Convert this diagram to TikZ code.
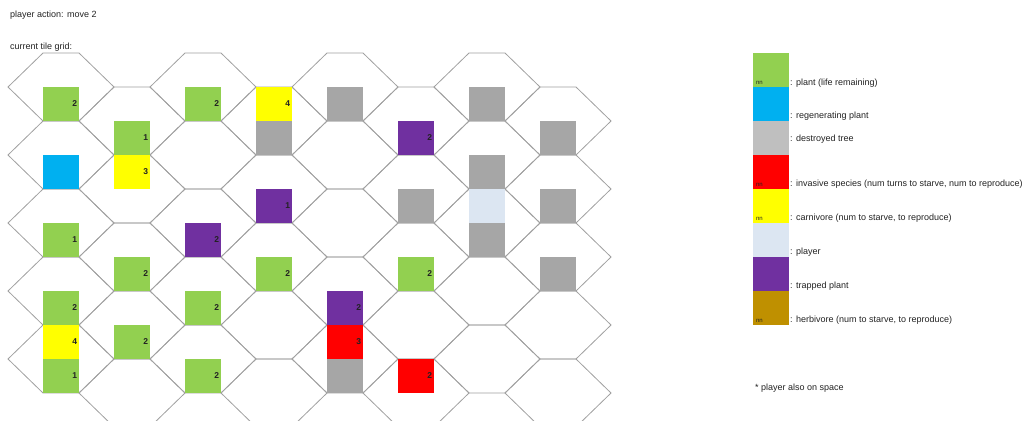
\documentclass[tikz,border=0pt]{standalone}
\usepackage{fontspec}
\setmainfont{Liberation Sans}
\definecolor{plantc}{HTML}{92D050}
\definecolor{regenc}{HTML}{00B0F0}
\definecolor{greyc}{HTML}{A6A6A6}
\definecolor{ltgreyc}{HTML}{BFBFBF}
\definecolor{redc}{HTML}{FF0000}
\definecolor{yellowc}{HTML}{FFFF00}
\definecolor{playerc}{HTML}{DCE6F2}
\definecolor{purplec}{HTML}{7030A0}
\definecolor{herbc}{HTML}{BF9000}
\definecolor{hexc}{HTML}{A0A0A0}
\definecolor{txtc}{HTML}{222222}
\newcommand\tile[4]{\node[tilebox, fill=#3] (t#1-#2) at ({43+71*#1+18},{87+34*#2+17}) {#4};}
\newcommand\legsq[3]{\node[legbox, fill=#2] (lg#1) at (771,{53+34*#1+17}) {};\node[nnlabel] (nn#1) at (lg#1.south west) {#3};}
\newcommand\hexcell[2]{\draw[hexline] ({43+71*#1},{#2}) -- ++(36,0) -- ++(35,34) -- ++(-35,34) -- ++(-36,0) -- ++(-35,-34) -- cycle;}
\begin{document}
\begin{tikzpicture}[x=1pt,y=-1pt,
  hexline/.style={draw=hexc, line width=0.8pt, line join=miter},
  tilebox/.style={minimum width=36pt, minimum height=34pt, inner xsep=0pt, inner ysep=0pt, text width=32pt, align=right, font=\fontsize{8.5}{10}\selectfont\bfseries, text=txtc},
  legbox/.style={minimum width=36pt, minimum height=34pt, inner sep=0pt},
  nnlabel/.style={anchor=south west, inner sep=0pt, xshift=3pt, yshift=2.5pt, font=\fontsize{6}{7}\selectfont, text=txtc},
  plaintext/.style={anchor=west, inner sep=0pt, font=\fontsize{9}{10}\selectfont, text=txtc}]
\useasboundingbox (0,0) rectangle (1024,420);
\begin{scope}
\clip (0,0) rectangle (1024,420);
\foreach \hc in {0,2,4,6}{
  \foreach \hy in {53,121,189,257,325}{
    \hexcell{\hc}{\hy}
  }
}
\foreach \hc in {1,3,5,7}{
  \foreach \hy in {87,155,223,291,359}{
    \hexcell{\hc}{\hy}
  }
}
\end{scope}
% column 0
\tile{0}{0}{plantc}{2}
\tile{0}{2}{regenc}{}
\tile{0}{4}{plantc}{1}
\tile{0}{6}{plantc}{2}
\tile{0}{7}{yellowc}{4}
\tile{0}{8}{plantc}{1}
% column 1
\tile{1}{1}{plantc}{1}
\tile{1}{2}{yellowc}{3}
\tile{1}{5}{plantc}{2}
\tile{1}{7}{plantc}{2}
% column 2
\tile{2}{0}{plantc}{2}
\tile{2}{4}{purplec}{2}
\tile{2}{6}{plantc}{2}
\tile{2}{8}{plantc}{2}
% column 3
\tile{3}{0}{yellowc}{4}
\tile{3}{1}{greyc}{}
\tile{3}{3}{purplec}{1}
\tile{3}{5}{plantc}{2}
% column 4
\tile{4}{0}{greyc}{}
\tile{4}{6}{purplec}{2}
\tile{4}{7}{redc}{3}
\tile{4}{8}{greyc}{}
% column 5
\tile{5}{1}{purplec}{2}
\tile{5}{3}{greyc}{}
\tile{5}{5}{plantc}{2}
\tile{5}{8}{redc}{2}
% column 6
\tile{6}{0}{greyc}{}
\tile{6}{2}{greyc}{}
\tile{6}{3}{playerc}{}
\tile{6}{4}{greyc}{}
% column 7
\tile{7}{1}{greyc}{}
\tile{7}{3}{greyc}{}
\tile{7}{5}{greyc}{}
% titles
\node[plaintext] (title) at (10,15) {player action: move 2};
\node[plaintext] (gridlbl) at (10,47) {current tile grid:};
% legend
\legsq{0}{plantc}{nn}
\legsq{1}{regenc}{}
\legsq{2}{ltgreyc}{}
\legsq{3}{redc}{nn}
\legsq{4}{yellowc}{nn}
\legsq{5}{playerc}{}
\legsq{6}{purplec}{}
\legsq{7}{herbc}{nn}
\node[plaintext] (l0) at (790,83) {: plant (life remaining)};
\node[plaintext] (l1) at (790,116) {: regenerating plant};
\node[plaintext] (l2) at (790,139) {: destroyed tree};
\node[plaintext] (l3) at (790,184) {: invasive species (num turns to starve, num to reproduce)};
\node[plaintext] (l4) at (790,218) {: carnivore (num to starve, to reproduce)};
\node[plaintext] (l5) at (790,252) {: player};
\node[plaintext] (l6) at (790,286) {: trapped plant};
\node[plaintext] (l7) at (790,320) {: herbivore (num to starve, to reproduce)};
\node[plaintext] (note) at (755,388) {* player also on space};
\end{tikzpicture}
\end{document}
